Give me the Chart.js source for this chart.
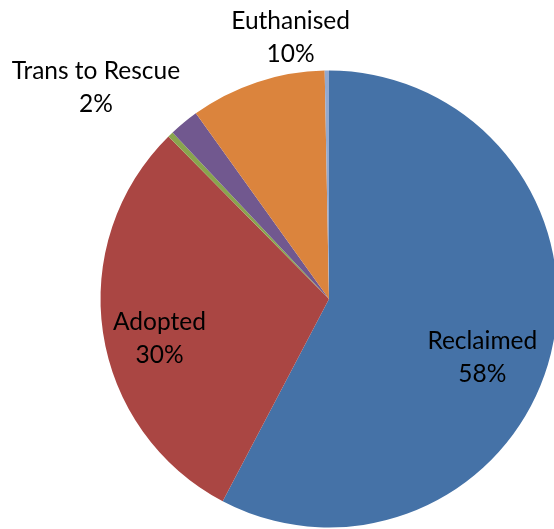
<!DOCTYPE html>
<html>
<head>
<meta charset="utf-8">
<script src="https://cdn.jsdelivr.net/npm/chart.js@4"></script>
<style>
  html, body { margin: 0; padding: 0; background: #fff; overflow: hidden; }
  #wrap { width: 554px; height: 529px; overflow: hidden; }
</style>
</head>
<body>
<div id="wrap"><canvas id="pie" width="600" height="529"></canvas></div>
<script>
// outcome shares (percent of animals)
const categories = ['Reclaimed', 'Adopted', 'Died', 'Trans to Rescue', 'Euthanised', 'Other'];
const shares = [57.7, 29.9, 0.4, 2.1, 9.6, 0.3];
const colours = ['#4572A7', '#AA4643', '#89A54E', '#71588F', '#DB843D', '#93A9CF'];
const showLabel = [true, true, false, true, true, false];

// where each label sits: fraction of radius along the slice middle, then a nudge
const placement = [
    { f: 0.70, dx: -2, dy: 20 },
    { f: 0.75, dx: 0, dy: 14 },
    null,
    { f: 1.20, dx: -59, dy: 0 },
    { f: 1.20, dx: 48, dy: -1 },
    null
];

const sliceLabels = {
    id: 'sliceLabels',
    afterDatasetsDraw(chart) {
        const ctx = chart.ctx;
        const arcs = chart.getDatasetMeta(0).data;
        const total = shares.reduce((a, b) => a + b, 0);
        ctx.save();
        ctx.font = '24.5px Lato, "Open Sans", sans-serif';
        ctx.fillStyle = '#000';
        ctx.textAlign = 'center';
        ctx.textBaseline = 'middle';
        arcs.forEach((arc, i) => {
            if (!showLabel[i] || !placement[i]) return;
            const p = arc.getProps(['x', 'y', 'startAngle', 'endAngle', 'outerRadius'], true);
            const mid = (p.startAngle + p.endAngle) / 2;
            const r = p.outerRadius * placement[i].f;
            const x = p.x + Math.cos(mid) * r + placement[i].dx;
            const y = p.y + Math.sin(mid) * r + placement[i].dy;
            const pct = Math.round(shares[i] / total * 100) + '%';
            ctx.fillText(categories[i], x, y - 16.5);
            ctx.fillText(pct, x, y + 16.5);
        });
        ctx.restore();
    }
};

new Chart(document.getElementById('pie'), {
    type: 'pie',
    data: {
        labels: categories,
        datasets: [{
            data: shares,
            backgroundColor: colours,
            borderWidth: 0
        }]
    },
    options: {
        responsive: false,
        animation: false,
        layout: { padding: { left: 100.5, top: 70.5, right: 42.5, bottom: 1.5 } },
        plugins: {
            legend: { display: false },
            tooltip: { enabled: false }
        }
    },
    plugins: [sliceLabels]
});
</script>
</body>
</html>
